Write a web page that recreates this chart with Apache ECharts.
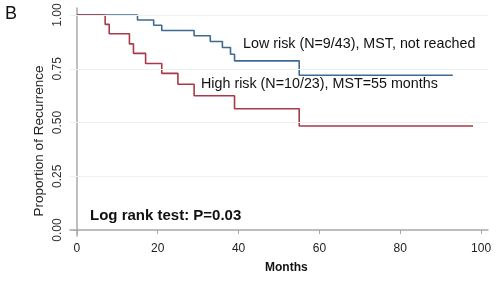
<!DOCTYPE html>
<html>
<head>
<meta charset="utf-8">
<script src="https://cdn.jsdelivr.net/npm/echarts@6/dist/echarts.min.js"></script>
<style>
  html, body { margin: 0; padding: 0; background: #fff; }
  #box { width: 500px; height: 290px; }
</style>
</head>
<body>
<div id="box"></div>
<script>
// survival curves, [month, proportion]
var lowRisk = [[0, 1], [15, 0.977], [19, 0.953], [21, 0.928], [29, 0.904], [33, 0.877],
  [36, 0.849], [38, 0.818], [39, 0.787], [55, 0.72], [93, 0.72]];
var highRisk = [[0, 1], [7, 0.957], [8, 0.913], [13, 0.866], [14, 0.822], [17, 0.775],
  [21, 0.729], [25, 0.678], [29, 0.625], [39, 0.564], [55, 0.484], [98, 0.484]];
var xTicks = [0, 20, 40, 60, 80, 100];
var yTicks = [0, 0.25, 0.5, 0.75, 1];
var gridValues = [0.25, 0.5, 0.75, 1];

var font = 'Liberation Sans, Arial, sans-serif';
var chart = echarts.init(document.getElementById('box'));

var option = {
  animation: false,
  grid: { left: 70, right: 12, top: 8, bottom: 54 },
  xAxis: {
    type: 'value',
    min: -1.7,
    max: 101.7,
    axisLine: { lineStyle: { color: '#a8a8a8', width: 1.5 } },
    axisTick: { customValues: xTicks, length: 4, lineStyle: { color: '#a8a8a8' } },
    axisLabel: { customValues: xTicks, color: '#222', fontSize: 12, fontFamily: font, margin: 7 },
    splitLine: { show: false }
  },
  yAxis: {
    type: 'value',
    min: -0.028,
    max: 1.033,
    axisLine: { show: true, lineStyle: { color: '#a8a8a8', width: 1.5 } },
    axisTick: { show: true, customValues: yTicks, length: 4, lineStyle: { color: '#a8a8a8' } },
    axisLabel: {
      customValues: yTicks, rotate: 90, color: '#333', fontSize: 12, fontFamily: font, margin: 6,
      formatter: function (v) { return v.toFixed(2); }
    },
    splitLine: { show: false }
  },
  series: [
    {
      name: 'Low risk',
      type: 'line',
      step: 'end',
      data: lowRisk,
      symbol: 'none',
      lineStyle: { color: '#3e6a93', width: 1.6 },
      markLine: {
        silent: true,
        symbol: 'none',
        label: { show: false },
        lineStyle: { color: '#eaf1f1', type: 'solid', width: 1 },
        data: gridValues.map(function (v) { return { yAxis: v }; })
      },
      z: 2
    },
    {
      name: 'High risk',
      type: 'line',
      step: 'end',
      data: highRisk,
      symbol: 'none',
      lineStyle: { color: '#a83a47', width: 1.6 },
      z: 3
    }
  ],
  graphic: [
    { type: 'text', left: 5, top: 5, style: { text: 'B', fontSize: 18, fontFamily: font, fill: '#111' } },
    { type: 'text', left: 243, top: 37, style: { text: 'Low risk (N=9/43), MST, not reached', fontSize: 14.3, fontFamily: font, fill: '#111' } },
    { type: 'text', left: 201, top: 77, style: { text: 'High risk (N=10/23), MST=55 months', fontSize: 14.3, fontFamily: font, fill: '#111' } },
    { type: 'text', left: 90, top: 208, style: { text: 'Log rank test: P=0.03', fontSize: 15, fontWeight: 'bold', fontFamily: font, fill: '#111' } },
    { type: 'text', left: 265, top: 262, style: { text: 'Months', fontSize: 12, fontWeight: 'bold', fontFamily: font, fill: '#111' } },
    {
      type: 'text', x: 39, y: 141, rotation: Math.PI / 2,
      style: { text: 'Proportion of Recurrence', fontSize: 13.5, fontFamily: font, fill: '#222', align: 'center', verticalAlign: 'middle' }
    }
  ]
};
chart.setOption(option);
</script>
</body>
</html>
